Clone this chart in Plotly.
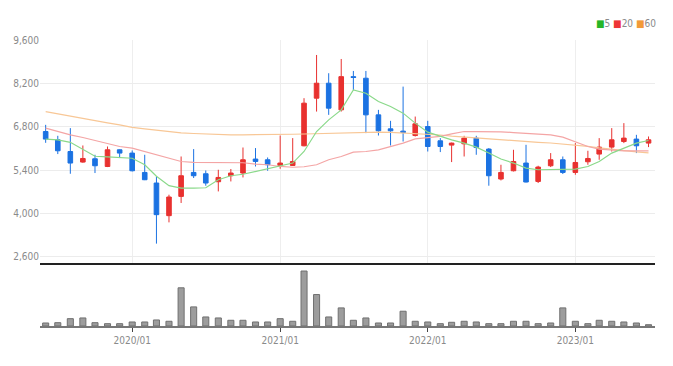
import plotly.graph_objects as go
import pandas as pd

months = pd.date_range("2019-06-01", "2023-07-01", freq="MS").strftime("%Y-%m-%d").tolist()

opens = [6647,6380,6003,5662,5768,5520,6058,5952,5327,4986,3933,4555,5327,5285,5028,5221,5308,5759,5736,5553,
         5553,6187,7723,8206,7346,8418,8367,7185,6734,6660,6518,6808,6348,6209,6251,6435,6081,5115,5382,5630,
         5037,5543,5736,5327,5672,5920,6145,6325,6403,6274]
highs = [6863,6509,6757,6197,5897,6164,6070,6036,5897,5198,4609,5842,6081,5392,5414,5437,6132,6113,5810,6518,
         6435,7723,9117,8528,8988,8602,8602,7346,6992,8096,7130,6992,6435,6290,6509,6509,6113,5575,6058,6219,
         5543,5952,5842,6274,6026,6435,6757,6918,6541,6487]
lows = [6283,5920,5285,5640,5308,5500,5791,5360,5080,3031,3717,4342,5147,4899,4715,5037,5166,5520,5382,5446,
        5540,6170,7291,7185,7291,7990,6596,6518,6197,6325,6486,6003,5984,5662,5842,5897,4899,5069,5360,5005,
        4986,5501,5276,5253,5575,5736,6003,6274,5952,6145]
closes = [6403,6026,5630,5778,5543,6058,5952,5382,5092,3965,4535,5221,5221,4986,5166,5308,5736,5681,5575,5630,
          5681,7562,8206,7401,8418,8390,7185,6670,6670,6615,6895,6164,6164,6274,6435,6132,5221,5327,5681,5018,
          5501,5736,5327,5649,5778,6145,6380,6435,6187,6380]
volumes = [30,33,73,80,33,23,23,40,40,60,47,380,190,90,80,57,57,40,40,73,
           47,547,313,90,180,57,80,30,30,147,47,40,23,37,47,40,23,23,47,47,
           23,30,180,47,23,57,47,40,30,13]
ma5 = [6400,6380,6300,6060,5850,5830,5800,5785,5575,5205,4900,4820,4820,4834,5092,5221,5269,5359,5469,5552,
       5630,6003,6647,7024,7346,7990,7884,7613,7453,7240,6918,6628,6486,6380,6274,6145,5952,5759,5630,5469,
       5414,5414,5437,5437,5520,5681,5952,6113,6274,6357]
ma20 = [6757,6647,6541,6454,6358,6251,6164,6113,6003,5897,5791,5681,5649,5649,5630,5630,5640,5598,5575,5520,
        5495,5511,5575,5736,5842,5984,6003,6058,6164,6274,6412,6454,6493,6573,6647,6647,6647,6638,6615,6596,
        6573,6541,6467,6325,6164,6081,6042,6026,6026,6026]
ma60 = [7291,7217,7137,7072,7008,6927,6863,6783,6734,6686,6638,6605,6583,6563,6551,6541,6541,6541,6547,6554,
        6560,6567,6580,6596,6612,6622,6628,6628,6622,6605,6580,6557,6535,6499,6467,6435,6403,6374,6348,6322,
        6300,6277,6245,6213,6171,6123,6074,6032,5994,5961]

price_ticks = [2600, 4000, 5400, 6800, 8200, 9600]
x_ticks = ["2020-01-01", "2021-01-01", "2022-01-01", "2023-01-01"]
x_tick_labels = ["2020/01", "2021/01", "2022/01", "2023/01"]

UP = "#E8312F"
DOWN = "#1B72E2"
TICK_FONT = dict(family="Liberation Sans Narrow, DejaVu Sans Condensed, sans-serif", size=10, color="#8a8a8a")
DAY_MS = 86400000

fig = go.Figure()
fig.add_trace(go.Scatter(x=months, y=ma60, mode="lines", line=dict(color="#F8C796", width=1.2), xaxis="x", yaxis="y", hoverinfo="skip"))
fig.add_trace(go.Scatter(x=months, y=ma20, mode="lines", line=dict(color="#F4A5A5", width=1.2), xaxis="x", yaxis="y", hoverinfo="skip"))
fig.add_trace(go.Scatter(x=months, y=ma5, mode="lines", line=dict(color="#8AD98A", width=1.2), xaxis="x", yaxis="y", hoverinfo="skip"))
fig.add_trace(go.Candlestick(
    x=months, open=opens, high=highs, low=lows, close=closes,
    increasing=dict(line=dict(color=UP, width=1), fillcolor=UP),
    decreasing=dict(line=dict(color=DOWN, width=1), fillcolor=DOWN),
    whiskerwidth=0, xaxis="x", yaxis="y"))
fig.add_trace(go.Bar(x=months, y=volumes, width=15 * DAY_MS,
                     marker=dict(color="#9d9d9d", line=dict(color="#707070", width=1)),
                     xaxis="x2", yaxis="y2", hoverinfo="skip"))

xr = ["2019-05-18", "2023-07-17"]
fig.update_layout(
    width=673, height=366,
    margin=dict(l=32, r=26, t=32, b=48, autoexpand=False),
    paper_bgcolor="white", plot_bgcolor="white",
    showlegend=False, boxgap=0.42,
    xaxis=dict(type="date", range=xr, domain=[0, 1], anchor="y", tickvals=x_ticks, showticklabels=False,
               showgrid=True, gridcolor="#eeeeee", gridwidth=1, zeroline=False,
               showline=True, linecolor="#222222", linewidth=2, ticks="",
               rangeslider=dict(visible=False)),
    yaxis=dict(range=[2406, 9600], domain=[0.2203, 1], anchor="x", tickvals=price_ticks, tickformat=",",
               showgrid=True, gridcolor="#ececec", gridwidth=1, zeroline=False, showline=False,
               tickfont=TICK_FONT, ticks=""),
    xaxis2=dict(type="date", range=xr, domain=[0, 1], anchor="y2", tickvals=x_ticks, ticktext=x_tick_labels,
                showgrid=False, zeroline=False, showline=True, linecolor="#777777", linewidth=2,
                ticks="outside", ticklen=4, tickcolor="#444444", tickwidth=1, tickfont=TICK_FONT),
    yaxis2=dict(range=[0, 607], domain=[0, 0.2133], anchor="x2", visible=False, showgrid=False),
)

fig.add_annotation(
    xref="paper", yref="paper", x=1.005, y=1.056, xanchor="right", yanchor="middle", showarrow=False,
    text="<span style='color:#26b526'>■</span>5 <span style='color:#ee3535'>■</span>20 <span style='color:#f29a38'>■</span>60",
    font=dict(family="Liberation Sans Narrow, DejaVu Sans Condensed, sans-serif", size=10, color="#8a8a8a"))

fig.write_html("out.html")
